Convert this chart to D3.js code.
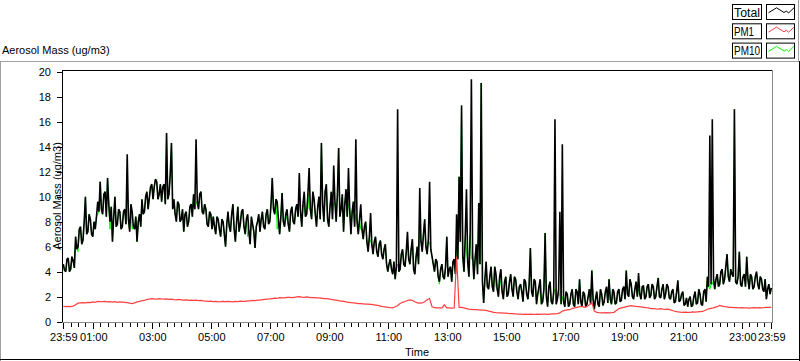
<!DOCTYPE html>
<html><head><meta charset="utf-8">
<script src="https://cdn.jsdelivr.net/npm/d3@7"></script>
<style>
body{margin:0;background:#fff;}
svg{display:block;font-family:"Liberation Sans",Arial,sans-serif;}
</style>
</head><body>
<svg id="c" width="800" height="361"></svg>
<script>
// sampling: readings every 5 minutes from 23:59 (on the minute), plus the
// in-between readings 2.5 minutes later (the "Mid" arrays), over 24 h
const stepMinutes = 5;
const seriesNames = ["Total", "PM1", "PM10"];
const seriesColors = ["#000000", "#ff4040", "#00ff00"];
const yTicks = [0, 2, 4, 6, 8, 10, 12, 14, 16, 18, 20];
const xTickLabels = ["23:59","01:00","03:00","05:00","07:00","09:00","11:00","13:00","15:00","17:00","19:00","21:00","23:00","23:59"];
const xTickMinutes = [0,61,181,301,421,541,661,781,901,1021,1141,1261,1381,1440];
const yTitle = "Aerosol Mass (ug/m3)";
const xTitle = "Time";

const total = [
4.6,4.0,5.1,4.2,4.9,6.8,6.0,7.6,6.5,10.0,7.2,8.2,
6.8,7.4,9.6,11.2,8.6,10.4,11.5,8.0,6.4,10.0,7.8,8.8,
7.6,9.0,13.4,7.2,8.8,7.4,6.4,8.6,9.8,8.8,10.4,9.9,
11.0,10.8,11.2,10.2,9.6,11.0,15.1,10.2,14.3,9.8,8.0,9.4,
8.2,7.2,8.8,8.0,9.4,10.2,14.6,9.0,10.4,8.6,9.0,7.6,
8.6,8.4,7.0,8.2,6.8,8.0,6.0,8.8,7.2,9.4,6.4,9.2,
7.8,9.0,7.0,8.6,6.2,7.8,5.9,8.0,7.2,8.8,7.4,9.0,
8.0,11.5,8.6,9.6,7.0,10.3,7.6,9.0,7.2,9.2,7.8,9.4,
11.9,7.6,10.4,8.6,12.3,8.2,9.8,7.6,10.0,14.3,8.0,11.0,
7.6,10.4,12.5,8.0,13.9,9.0,7.2,10.6,12.3,7.0,9.6,14.6,
7.0,9.4,6.6,8.0,5.6,8.7,5.4,6.8,5.2,6.5,5.0,6.2,
4.0,5.0,3.8,3.4,17.0,4.2,5.8,4.4,7.2,4.6,6.6,3.8,
6.0,10.7,5.6,8.2,5.4,11.2,5.2,4.0,4.8,3.2,4.6,3.4,
6.8,4.2,3.2,5.0,8.6,11.6,17.3,4.0,10.6,3.6,19.4,3.4,
6.2,9.5,19.1,1.5,4.8,2.6,4.4,2.4,3.8,2.0,4.2,1.8,
3.6,2.2,3.8,2.0,3.4,1.8,3.0,1.6,3.2,1.8,5.9,2.0,
3.2,2.2,3.4,1.6,7.1,1.2,3.2,1.4,16.2,1.8,8.8,14.2,
1.2,2.2,1.4,2.6,1.2,2.4,3.4,1.2,2.2,1.4,2.6,4.1,
1.0,2.4,1.2,2.2,1.6,2.8,3.4,1.4,2.4,1.5,2.6,1.7,
2.8,4.1,2.0,3.0,1.8,3.2,3.9,1.8,2.9,2.0,3.0,2.1,
2.8,2.0,3.5,1.9,3.0,2.2,2.8,1.8,2.6,1.6,3.3,1.7,
2.4,1.4,1.2,2.0,1.3,2.4,1.5,2.2,1.3,2.6,3.6,14.9,
16.2,2.6,3.8,3.0,4.2,3.4,5.4,3.2,3.8,17.0,3.0,5.6,
2.8,3.8,5.2,2.6,3.6,2.8,4.0,2.6,3.4,2.4,1.8,3.0,
2.7];

const totalMid = [
4.1,5.0,4.0,5.2,4.3,5.8,7.4,6.2,8.0,7.0,8.6,7.0,
8.0,8.4,8.8,9.0,10.2,8.4,9.4,9.2,8.4,7.6,9.0,7.4,
8.8,7.8,8.2,9.4,7.6,8.4,8.0,7.6,8.6,10.0,9.0,10.8,
9.8,11.4,9.8,11.0,10.8,9.4,9.8,11.8,9.0,8.6,9.6,8.0,
9.0,8.6,7.6,9.2,8.4,9.0,9.6,10.2,8.8,9.4,7.8,8.8,
7.4,7.6,8.4,7.4,8.2,7.0,7.8,7.6,8.6,7.4,8.0,7.2,
8.8,7.6,8.2,7.2,8.4,7.2,7.6,8.6,8.2,7.6,8.6,7.8,
9.4,9.0,9.8,8.2,8.4,8.0,8.6,7.8,8.8,8.0,9.0,8.4,
8.8,9.4,8.4,10.2,9.0,10.4,8.6,9.2,8.2,9.4,10.4,8.2,
9.2,8.2,9.6,10.2,8.4,10.2,9.4,8.4,9.0,8.8,7.6,8.0,
8.2,7.4,7.6,6.4,6.8,6.2,6.4,5.6,6.2,5.4,5.8,4.6,
4.6,4.2,4.8,4.4,4.0,5.4,4.6,5.6,5.0,5.8,4.2,5.2,
4.6,6.4,7.0,6.0,6.6,5.8,4.6,5.0,3.6,4.2,3.6,4.4,
3.6,4.4,4.8,3.8,5.0,6.4,5.2,6.8,4.8,7.0,5.4,5.0,
3.8,4.6,3.2,3.4,2.8,3.6,2.8,4.4,2.6,3.6,2.4,3.2,
2.0,3.2,2.6,3.6,2.4,2.8,2.4,3.4,2.2,3.0,2.4,3.4,
1.4,2.8,1.4,2.6,2.0,2.8,1.6,2.4,1.4,2.6,1.4,1.6,
2.4,1.2,2.2,1.4,2.6,1.4,1.6,2.4,1.2,2.0,1.4,1.8,
1.8,1.4,2.6,1.3,2.4,1.5,1.8,2.6,1.4,2.4,1.6,2.6,
1.8,2.2,3.4,2.0,2.6,2.0,2.2,2.8,1.8,2.8,1.9,3.0,
1.8,2.8,2.0,2.6,1.8,3.0,1.9,2.4,1.5,2.4,1.6,2.2,
1.3,1.9,1.8,1.2,2.0,1.4,2.6,1.4,2.4,1.6,2.8,3.0,
3.4,3.4,2.8,4.0,3.0,4.4,3.6,4.2,3.6,3.2,3.6,3.0,
3.6,2.8,3.4,3.8,2.6,3.6,3.0,3.6,2.6,3.4,2.6,2.2];

const pm1 = [
1.22,1.2,1.22,1.2,1.25,1.35,1.48,1.5,1.52,1.5,1.55,1.53,
1.58,1.55,1.62,1.6,1.6,1.63,1.58,1.6,1.56,1.6,1.55,1.58,
1.57,1.55,1.52,1.48,1.45,1.5,1.58,1.62,1.68,1.7,1.78,1.8,
1.85,1.82,1.8,1.85,1.82,1.8,1.83,1.78,1.8,1.76,1.75,1.78,
1.75,1.72,1.74,1.7,1.72,1.7,1.72,1.68,1.7,1.66,1.65,1.62,
1.65,1.6,1.62,1.58,1.6,1.63,1.6,1.62,1.6,1.58,1.62,1.6,
1.65,1.62,1.63,1.66,1.66,1.7,1.68,1.72,1.72,1.76,1.78,1.8,
1.82,1.85,1.88,1.86,1.92,1.9,1.9,1.94,1.95,1.92,1.95,1.98,
2.0,1.96,1.95,1.98,1.95,1.92,1.92,1.9,1.9,1.88,1.85,1.85,
1.82,1.78,1.75,1.72,1.68,1.65,1.62,1.58,1.55,1.52,1.5,1.48,
1.45,1.44,1.42,1.4,1.4,1.38,1.36,1.33,1.3,1.25,1.2,1.18,
1.15,1.12,1.1,1.2,1.3,1.45,1.55,1.62,1.7,1.75,1.72,1.6,
1.5,1.48,1.5,1.6,1.75,1.85,1.2,1.12,1.1,1.1,1.08,1.35,
1.1,1.1,1.08,1.1,5.2,1.15,1.15,1.1,1.05,1.0,0.98,0.96,
0.96,0.95,0.93,0.92,0.9,0.85,0.8,0.75,0.72,0.7,0.7,0.68,
0.68,0.66,0.65,0.65,0.62,0.6,0.6,0.58,0.6,0.58,0.6,0.58,
0.58,0.6,0.58,0.6,0.6,0.58,0.6,0.62,0.62,0.65,0.7,0.85,
0.9,0.95,0.96,1.05,1.1,1.15,1.2,1.22,1.15,1.2,1.35,1.55,
0.85,0.75,0.72,0.7,0.7,0.72,0.7,0.72,0.75,0.9,1.05,1.1,
1.15,1.2,1.25,1.28,1.25,1.22,1.2,1.18,1.15,1.12,1.1,1.05,
1.05,1.02,1.0,1.05,1.0,0.98,1.0,0.95,0.88,0.82,0.78,0.76,
0.75,0.76,0.74,0.75,0.78,0.76,0.78,0.8,0.82,0.9,1.0,1.05,
1.08,1.15,1.2,1.3,1.25,1.2,1.18,1.15,1.15,1.12,1.12,1.1,
1.12,1.1,1.1,1.08,1.1,1.12,1.1,1.12,1.1,1.12,1.15,1.15,
1.15];

const pm10 = [
4.6,4.0,5.1,4.2,4.9,6.8,5.6,7.6,6.5,10.0,7.2,8.2,
6.8,7.4,8.6,11.2,8.6,10.4,11.5,7.4,6.4,10.0,7.8,8.8,
7.6,9.0,10.5,7.2,7.4,7.4,6.4,8.6,9.8,8.8,10.4,9.9,
11.0,10.8,11.2,10.2,9.6,11.0,15.1,10.2,14.3,9.8,8.0,9.4,
8.2,7.2,8.8,8.0,9.4,10.2,9.4,9.0,10.4,8.6,9.0,7.6,
8.6,8.4,7.0,8.2,6.8,8.0,6.0,8.8,7.2,9.4,6.4,9.2,
7.8,9.0,7.0,6.8,6.2,7.8,5.9,8.0,7.2,8.8,7.4,9.0,
8.0,11.5,8.6,7.4,7.0,10.3,7.6,8.2,7.2,9.2,7.8,9.4,
9.5,7.6,9.2,8.6,9.0,8.2,9.8,7.6,10.0,14.3,8.0,11.0,
7.6,10.4,9.5,8.0,13.9,9.0,7.2,10.6,9.4,7.0,9.6,8.6,
7.0,7.4,6.6,8.0,5.6,6.4,5.4,6.8,5.2,6.5,5.0,6.2,
4.0,5.0,3.8,3.4,4.6,4.2,5.8,4.4,6.0,4.6,6.6,3.8,
6.0,7.5,5.6,8.2,5.4,6.2,5.2,4.0,4.8,3.0,4.6,3.4,
6.8,4.2,3.2,5.0,6.0,11.6,17.3,4.0,5.6,3.6,5.0,3.4,
6.2,9.5,19.1,1.5,4.8,2.6,4.4,2.4,2.8,2.0,3.0,1.8,
3.6,2.2,3.8,2.0,3.4,1.8,3.0,1.6,3.2,1.8,5.9,2.0,
3.2,2.2,2.2,1.6,7.1,1.2,3.2,1.4,2.6,1.8,2.0,2.0,
1.2,2.2,1.4,2.6,1.2,2.4,3.4,1.2,2.2,1.4,2.6,4.1,
1.0,2.4,1.2,2.2,1.6,2.8,3.4,1.4,1.8,1.5,2.6,1.7,
2.8,4.1,2.0,3.0,1.8,3.2,2.6,1.8,2.9,2.0,3.0,2.1,
2.8,2.0,3.5,1.9,3.0,2.2,2.8,1.8,2.6,1.6,3.3,1.7,
2.4,1.4,1.2,2.0,1.3,2.4,1.5,2.2,1.3,2.6,3.6,2.6,
3.0,2.6,3.8,3.0,4.2,3.4,5.4,3.2,3.8,17.0,3.0,5.6,
2.8,3.8,5.2,2.6,3.6,2.8,4.0,2.6,3.4,2.4,1.8,3.0,
2.7];

const pm10Mid = [
4.1,5.0,4.0,5.2,4.3,5.8,7.4,6.2,8.0,7.0,8.6,7.0,
8.0,8.4,8.8,9.0,10.2,8.4,9.4,9.2,8.4,7.6,9.0,7.4,
8.8,7.8,8.2,9.4,7.6,8.4,8.0,7.6,8.6,10.0,9.0,10.8,
9.8,11.4,9.8,11.0,10.8,9.4,9.8,11.8,9.0,8.6,9.6,8.0,
9.0,8.6,7.6,9.2,8.4,9.0,9.6,10.2,8.8,9.4,7.8,8.8,
7.4,7.6,8.4,7.4,8.2,7.0,7.8,7.6,8.6,7.4,8.0,7.2,
8.8,7.6,8.2,7.2,8.4,7.2,7.6,8.6,8.2,7.6,8.6,7.8,
9.4,9.0,9.8,8.2,8.4,8.0,8.6,7.8,8.8,8.0,9.0,8.4,
8.8,9.4,8.4,10.2,9.0,10.4,8.6,9.2,8.2,9.4,10.4,8.2,
9.2,8.2,9.6,10.2,8.4,10.2,9.4,8.4,9.0,8.8,7.6,8.0,
8.2,7.4,7.6,6.4,6.8,6.2,6.4,5.6,6.2,5.4,5.8,4.6,
4.6,4.2,4.8,4.4,4.0,5.4,4.6,5.6,5.0,5.8,4.2,5.2,
4.6,6.4,7.0,6.0,6.6,5.8,4.6,5.0,3.6,4.2,3.6,4.4,
3.6,4.4,4.8,3.8,5.0,6.4,5.2,6.8,4.8,7.0,5.4,5.0,
3.8,4.6,3.2,3.4,2.8,3.6,2.8,4.4,2.6,3.6,2.4,3.2,
2.0,3.2,2.6,3.6,2.4,2.8,2.4,3.4,2.2,3.0,2.4,3.4,
1.4,2.8,1.4,2.6,2.0,2.8,1.6,2.4,1.4,2.6,1.4,1.6,
2.4,1.2,2.2,1.4,2.6,1.4,1.6,2.4,1.2,2.0,1.4,1.8,
1.8,1.4,2.6,1.3,2.4,1.5,1.8,2.6,1.4,2.4,1.6,2.6,
1.8,2.2,3.4,2.0,2.6,2.0,2.2,2.8,1.8,2.8,1.9,3.0,
1.8,2.8,2.0,2.6,1.8,3.0,1.9,2.4,1.5,2.4,1.6,2.2,
1.3,1.9,1.8,1.2,2.0,1.4,2.6,1.4,2.4,1.6,2.8,3.0,
3.4,3.4,2.8,4.0,3.0,4.4,3.6,4.2,3.6,3.2,3.6,3.0,
3.6,2.8,3.4,3.8,2.6,3.6,3.0,3.6,2.6,3.4,2.6,2.2];

// combine on-the-step readings with the in-between readings
function merge(main, mid) {
  const out = [];
  main.forEach((v, k) => {
    out.push({t: k * stepMinutes, v});
    if (k < mid.length) out.push({t: (k + 0.5) * stepMinutes, v: mid[k]});
  });
  return out;
}
const totalPts = merge(total, totalMid);
const pm10Pts = merge(pm10, pm10Mid);
const pm1Pts = pm1.map((v, k) => ({t: k * stepMinutes, v}));

const svg = d3.select("#c");
const plot = {left: 62, top: 70, right: 772, bottom: 322};

const x = d3.scaleLinear().domain([0, 1440]).range([63.3, 771.3]);
const y = d3.scaleLinear().domain([0, 20]).range([321.7, 71.7]);

// outer panel frame
svg.append("line").attr("x1",0).attr("x2",799).attr("y1",61.5).attr("y2",61.5).attr("stroke","#a0a0a0");
svg.append("line").attr("x1",0.5).attr("x2",0.5).attr("y1",61).attr("y2",361).attr("stroke","#a0a0a0");
svg.append("line").attr("x1",799.5).attr("x2",799.5).attr("y1",61).attr("y2",361).attr("stroke","#000");
svg.append("line").attr("x1",0).attr("x2",800).attr("y1",359.5).attr("y2",359.5).attr("stroke","#000");
svg.append("line").attr("x1",798.5).attr("x2",798.5).attr("y1",0).attr("y2",61).attr("stroke","#a0a0a0");

// y title (top-left)
svg.append("text").attr("x",2).attr("y",54).attr("font-size",11).attr("fill","#000").text(yTitle);

// plot frame
svg.append("line").attr("x1",plot.left+0.5).attr("x2",plot.right+0.5).attr("y1",plot.top+0.5).attr("y2",plot.top+0.5).attr("stroke","#000");
svg.append("line").attr("x1",plot.left+0.5).attr("x2",plot.left+0.5).attr("y1",plot.top).attr("y2",plot.bottom+1).attr("stroke","#000");
svg.append("line").attr("x1",plot.right+0.5).attr("x2",plot.right+0.5).attr("y1",plot.top).attr("y2",plot.bottom+1).attr("stroke","#8c8c8c");
svg.append("line").attr("x1",plot.left).attr("x2",plot.right+1).attr("y1",plot.bottom+0.5).attr("y2",plot.bottom+0.5).attr("stroke","#8c8c8c");

// y axis
const yAxis = d3.axisLeft(y).tickValues(yTicks).tickSize(5).tickPadding(6).tickFormat(d3.format("d"));
const gy = svg.append("g").attr("transform",`translate(${plot.left},0)`).call(yAxis);
gy.select(".domain").remove();
gy.selectAll("line").attr("stroke","#000").attr("shape-rendering","crispEdges");
gy.selectAll("text").attr("font-size",11).attr("fill","#000").attr("font-family","Liberation Sans, Arial, sans-serif");

// rotated y title
svg.append("text").attr("transform","translate(57,196) rotate(-90)")
  .attr("text-anchor","middle").attr("dominant-baseline","central")
  .attr("font-size",11).attr("fill","#000").text(yTitle);

// x axis: minor ticks every 15 min, major labelled ticks
const minorTicks = d3.range(0, 1441, 15);
const gxMinor = svg.append("g").attr("transform",`translate(0,${plot.bottom+1})`)
  .call(d3.axisBottom(x).tickValues(minorTicks).tickSize(4).tickFormat(""));
gxMinor.select(".domain").remove();
gxMinor.selectAll("line").attr("stroke","#000").attr("shape-rendering","crispEdges");
const gx = svg.append("g").attr("transform",`translate(0,${plot.bottom+1})`)
  .call(d3.axisBottom(x).tickValues(xTickMinutes).tickSize(6).tickPadding(4)
        .tickFormat((d,i)=>xTickLabels[i]));
gx.select(".domain").remove();
gx.selectAll("line").attr("stroke","#000").attr("shape-rendering","crispEdges");
gx.selectAll("text").attr("font-size",11).attr("fill","#000").attr("font-family","Liberation Sans, Arial, sans-serif");

svg.append("text").attr("x",417).attr("y",356).attr("text-anchor","middle")
  .attr("font-size",11).attr("fill","#000").text(xTitle);

// series
const line = d3.line().x(d=>x(d.t)).y(d=>y(d.v));
const g = svg.append("g");
[[pm10Pts,"#00ff00",1.0],[totalPts,"#000000",1.6],[pm1Pts,"#ff4040",1.2]].forEach(([data,col,w])=>{
  g.append("path").datum(data).attr("d",line).attr("fill","none")
   .attr("stroke",col).attr("stroke-width",w).attr("stroke-linejoin","miter").attr("stroke-miterlimit",2);
});

// legend
const legendTextWidth = [26, 20, 26];
const legend = svg.append("g");
seriesNames.forEach((name,i)=>{
  const ty = 4 + i*19.3;
  legend.append("rect").attr("x",732.5).attr("y",ty+0.5).attr("width",29).attr("height",15)
    .attr("fill","#fff").attr("stroke","#000");
  legend.append("text").attr("x",734).attr("y",ty+12.5).attr("font-size",12).attr("fill","#000")
    .attr("textLength",legendTextWidth[i]).attr("lengthAdjust","spacingAndGlyphs").text(name);
  legend.append("rect").attr("x",766.5).attr("y",ty+0.5).attr("width",28).attr("height",15)
    .attr("fill","#fff").attr("stroke","#000");
  const pts = [[2,8.3],[10,3.3],[17.5,8],[20,6.5],[22,8.5],[27.5,3.3]];
  legend.append("path").attr("d",d3.line()(pts.map(p=>[766.5+p[0], ty+0.5+p[1]])))
    .attr("fill","none").attr("stroke",seriesColors[i]).attr("stroke-width",1);
});
</script>
</body></html>
